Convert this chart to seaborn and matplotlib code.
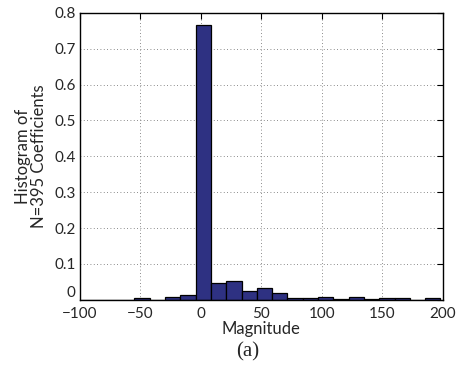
import numpy as np
import seaborn as sns
import matplotlib.pyplot as plt

# Bin centres (Magnitude) and normalised histogram heights
bin_centers = [-99.3, -86.6, -74.0, -61.3, -48.7, -36.0, -23.4, -10.7,
               1.9, 14.6, 27.2, 39.9, 52.5, 65.2, 77.8, 90.5,
               103.1, 115.8, 128.4, 141.1, 153.7, 166.4, 179.0, 191.7]
bin_heights = [0, 0, 0, 0, 0.005, 0, 0.0076, 0.013,
               0.767, 0.0456, 0.053, 0.0253, 0.033, 0.0177, 0.005, 0.005,
               0.0076, 0.0025, 0.0076, 0.0025, 0.005, 0.005, 0, 0.005]
bin_width = 12.65

x_ticks = [-100, -50, 0, 50, 100, 150, 200]
y_ticks = [0, 0.1, 0.2, 0.3, 0.4, 0.5, 0.6, 0.7, 0.8]

sns.set_style('white')
plt.rcParams['font.family'] = ['Lato', 'DejaVu Sans']

fig = plt.figure(figsize=(4.57, 3.67), dpi=100)
ax = fig.add_axes([0.175, 0.183, 0.794, 0.782])

edges = list(np.append(np.array(bin_centers) - bin_width / 2, bin_centers[-1] + bin_width / 2))
sns.histplot(x=np.array(bin_centers), weights=np.array(bin_heights), bins=edges, ax=ax,
             color='#2e3182', edgecolor='black', linewidth=0.9, alpha=1)

ax.set_xlim(-100, 200)
ax.set_ylim(0, 0.8)
ax.set_xticks(x_ticks)
ax.set_yticks(y_ticks)
ax.set_yticklabels(['0', '0.1', '0.2', '0.3', '0.4', '0.5', '0.6', '0.7', '0.8'])
ax.grid(True, linestyle=(0, (1, 3)), color='#666666', linewidth=0.6)
ax.set_axisbelow(True)
ax.tick_params(direction='in', length=4, width=0.8, labelsize=11,
               top=True, right=True, color='black')
ax.tick_params(axis='x', pad=5)
ax.tick_params(axis='y', pad=3)
# lift the "0" on the y axis a touch so it clears "-100"
ax.get_yticklabels()[0].set_verticalalignment('bottom')
for s in ax.spines.values():
    s.set_color('black')
    s.set_linewidth(1.0)

ax.set_xlabel('Magnitude', fontsize=12, labelpad=0)
ax.set_ylabel('Histogram of\nN=395 Coefficients', fontsize=12, labelpad=5, linespacing=1.0)
fig.text(0.543, 0.03, '(a)', fontsize=15, family='Liberation Serif', ha='center')

fig.savefig('out.png', dpi=100)
